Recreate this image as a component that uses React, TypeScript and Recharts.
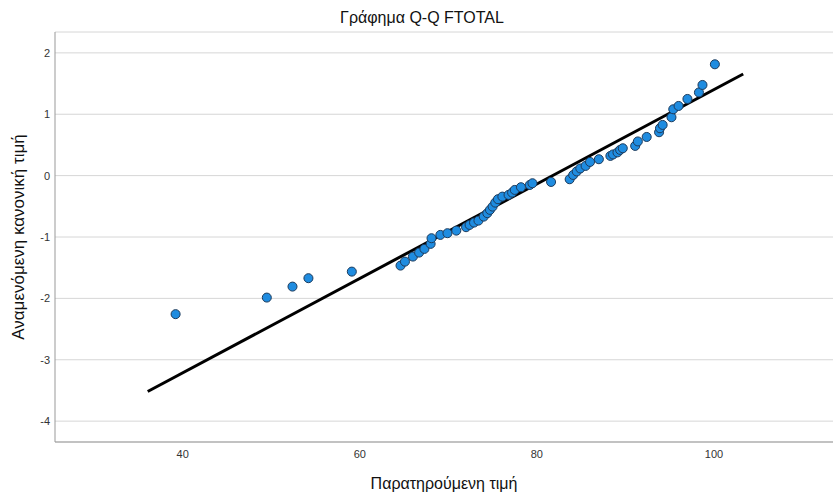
import { ScatterChart, Scatter, XAxis, YAxis, CartesianGrid, Label } from 'recharts';

// observed FTOTAL values and their expected normal quantiles
const observed = [
  39.2, 49.5, 52.4, 54.2, 59.1, 64.6, 65.1, 66.0, 66.7, 67.3,
  68.0, 68.1, 69.1, 69.9, 70.9, 72.0, 72.4, 72.9, 73.4, 74.0,
  74.4, 74.7, 75.0, 75.3, 75.6, 76.1, 76.8, 77.2, 77.5, 78.2,
  79.2, 79.5, 81.6, 83.7, 84.1, 84.5, 84.9, 85.5, 86.0, 87.0,
  88.3, 88.6, 89.1, 89.4, 89.7, 91.1, 91.4, 92.4, 93.8, 93.9,
  94.2, 95.2, 95.4, 96.0, 97.0, 98.3, 98.7, 100.1,
];
const expected = [
  -2.257, -1.987, -1.808, -1.671, -1.564, -1.466, -1.401, -1.319, -1.254, -1.194,
  -1.112, -1.02, -0.966, -0.938, -0.896, -0.84, -0.803, -0.765, -0.733, -0.668,
  -0.612, -0.558, -0.505, -0.44, -0.384, -0.342, -0.314, -0.277, -0.233, -0.189,
  -0.152, -0.124, -0.103, -0.059, 0.011, 0.068, 0.117, 0.158, 0.223, 0.267,
  0.321, 0.345, 0.378, 0.419, 0.446, 0.484, 0.557, 0.63, 0.707, 0.772,
  0.826, 0.951, 1.081, 1.135, 1.249, 1.355, 1.477, 1.814,
];

// reference line end points
const lineX = [36.05, 103.3];
const lineY = [-3.518, 1.656];

const xTicks = [40, 60, 80, 100];
const yTicks = [-4, -3, -2, -1, 0, 1, 2];

const points = observed.map((x, i) => ({ x, y: expected[i] }));
const fitLine = lineX.map((x, i) => ({ x, y: lineY[i] }));

const font = '"Liberation Sans", Arial, sans-serif';

export default function App() {
  return (
    <div style={{ position: 'absolute', left: 0, top: 0, width: 833, height: 494, background: '#fff', fontFamily: font }}>
      <div
        style={{
          position: 'absolute',
          top: 9,
          left: 0,
          width: 844,
          textAlign: 'center',
          fontSize: 16,
          lineHeight: '18px',
          color: '#111',
        }}
      >
        Γράφημα Q-Q FTOTAL
      </div>
      <ScatterChart width={833} height={494} margin={{ top: 32, right: 0, bottom: 0, left: 0 }}>
        <CartesianGrid vertical={false} stroke="#d6d6d6" />
        <XAxis
          type="number"
          dataKey="x"
          domain={[25.58, 113.44]}
          ticks={xTicks}
          height={52}
          tickLine={false}
          tickSize={0}
          tickMargin={8}
          axisLine={{ stroke: '#999' }}
          tick={{ fontSize: 11, fill: '#333', fontFamily: font }}
        >
          <Label
            value="Παρατηρούμενη τιμή"
            position="insideBottom"
            offset={5}
            style={{ fontSize: 16, fill: '#111', fontFamily: font }}
          />
        </XAxis>
        <YAxis
          type="number"
          dataKey="y"
          domain={[-4.34, 2.34]}
          ticks={yTicks}
          width={55}
          tickLine={false}
          tickSize={0}
          tickMargin={5}
          axisLine={{ stroke: '#999' }}
          tick={{ fontSize: 11, fill: '#333', fontFamily: font }}
        >
          <Label
            value="Αναμενόμενη κανονική τιμή"
            angle={-90}
            position="insideLeft"
            offset={18}
            style={{ fontSize: 17, fill: '#111', fontFamily: font, textAnchor: 'middle' }}
          />
        </YAxis>
        <Scatter
          data={fitLine}
          line={{ stroke: '#000', strokeWidth: 3 }}
          shape={() => <g />}
          isAnimationActive={false}
        />
        <Scatter
          data={points}
          fill="#1f8ce0"
          stroke="#1d3b5c"
          strokeWidth={1}
          isAnimationActive={false}
        />
      </ScatterChart>
    </div>
  );
}
